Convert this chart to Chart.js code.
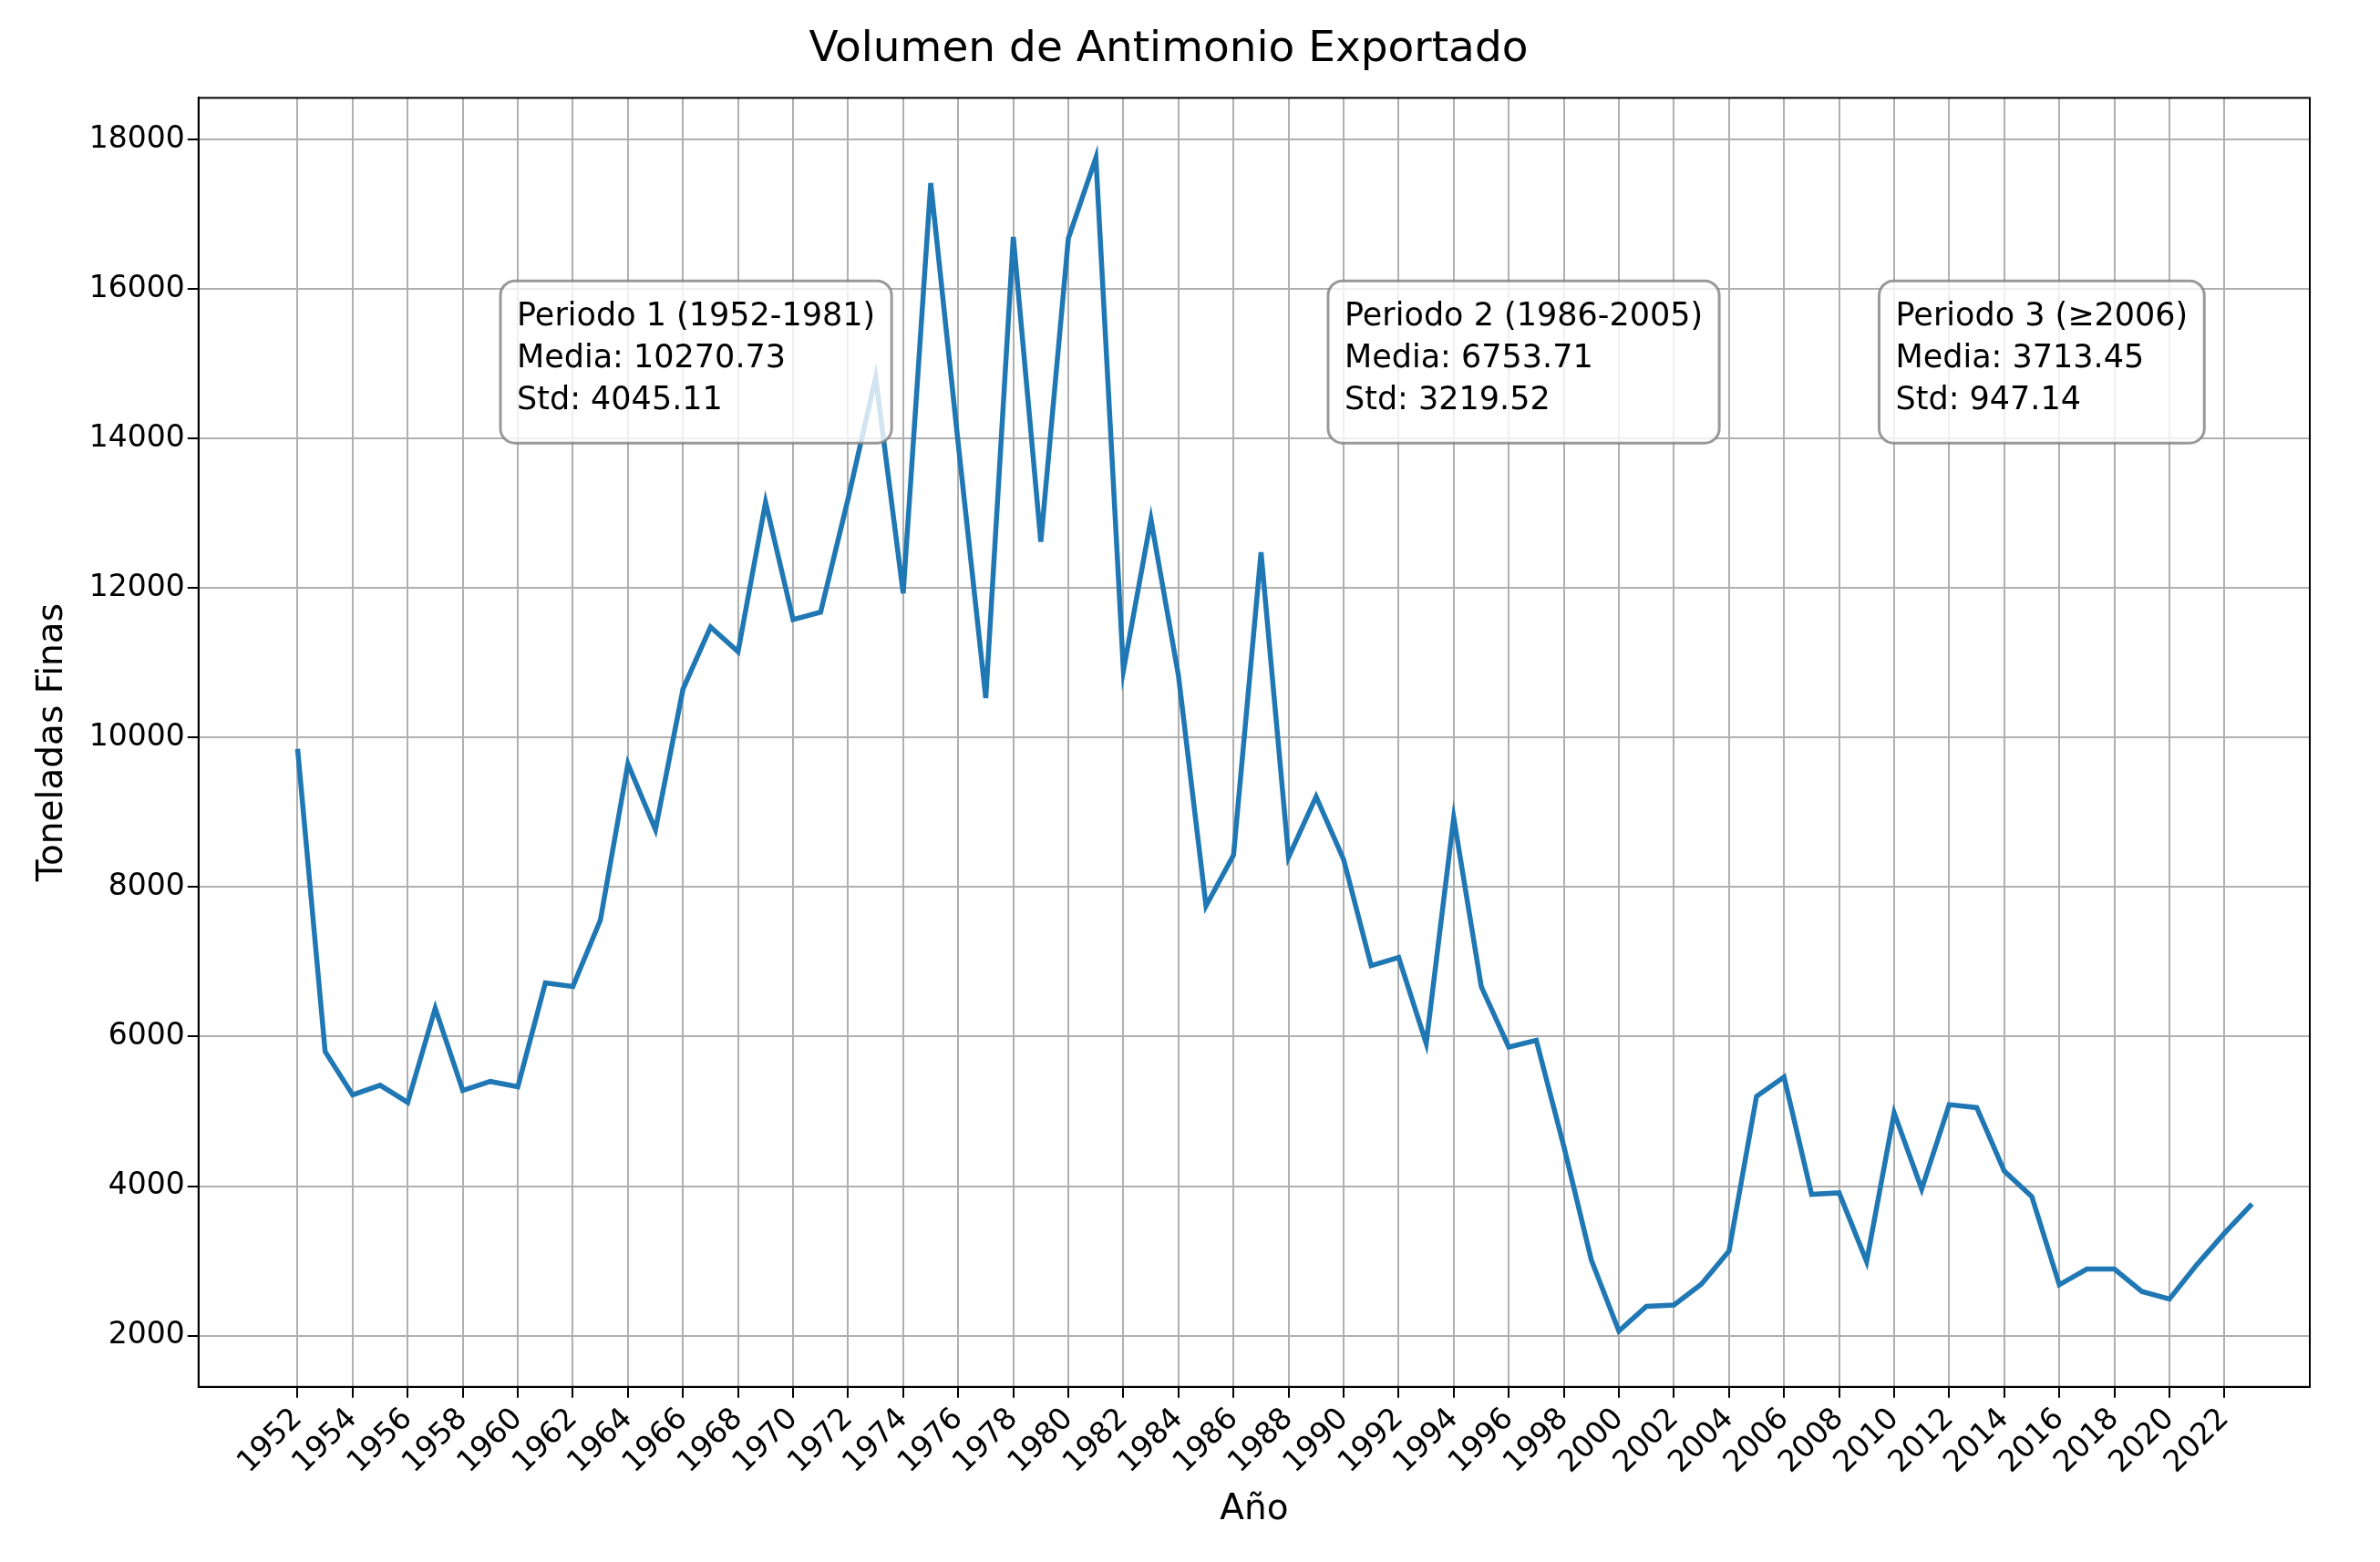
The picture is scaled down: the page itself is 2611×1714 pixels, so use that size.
<!DOCTYPE html>
<html>
<head>
<meta charset="utf-8">
<script src="https://cdn.jsdelivr.net/npm/chart.js@4"></script>
<style>
  body { margin: 0; background: #fff; }
  #wrap { width: 2611px; height: 1714px; }
</style>
</head>
<body>
<div id="wrap"><canvas id="grafico" width="2611" height="1714"></canvas></div>
<script>
// años y toneladas
var anios = [];
for (var a = 1952; a <= 2023; a++) anios.push(a);
var toneladas = [9850, 5800, 5220, 5350, 5120, 6380, 5280, 5400, 5330, 6720,
  6670, 7560, 9650, 8770, 10650, 11480, 11150, 13150, 11580, 11680,
  13200, 14820, 11930, 17420, 13930, 10530, 16700, 12620, 16680, 17760,
  10900, 12920, 10830, 7750, 8430, 12480, 8400, 9210, 8370, 6950,
  7060, 5910, 8930, 6670, 5860, 5950, 4530, 3010, 2060, 2390,
  2410, 2690, 3130, 5200, 5460, 3890, 3910, 2990, 4980, 3960,
  5090, 5050, 4200, 3860, 2680, 2890, 2890, 2590, 2490, 2950,
  3370, 3760];
var ticksX = [];
for (var t = 1952; t <= 2022; t += 2) ticksX.push(t);
var ticksY = [2000, 4000, 6000, 8000, 10000, 12000, 14000, 16000, 18000];

var periodos = [
  { fx: 0.143, lineas: ['Periodo 1 (1952-1981)', 'Media: 10270.73', 'Std: 4045.11'] },
  { fx: 0.535, lineas: ['Periodo 2 (1986-2005)', 'Media: 6753.71', 'Std: 3219.52'] },
  { fx: 0.796, lineas: ['Periodo 3 (≥2006)', 'Media: 3713.45', 'Std: 947.14'] }
];

// cajas de texto y marco del área
var cajas = {
  id: 'cajas',
  afterDatasetsDraw: function (chart) {
    var ctx = chart.ctx, ca = chart.chartArea;
    ctx.save();
    ctx.strokeStyle = '#000';
    ctx.lineWidth = 2;
    ctx.strokeRect(ca.left, ca.top, ca.right - ca.left, ca.bottom - ca.top);
    ctx.font = '35px "DejaVu Sans"';
    ctx.textBaseline = 'top';
    periodos.forEach(function (p) {
      var x = ca.left + p.fx * (ca.right - ca.left);
      var y = ca.top + 0.142 * (ca.bottom - ca.top);
      var w = 0;
      p.lineas.forEach(function (l) { w = Math.max(w, ctx.measureText(l).width); });
      w += 36;
      var h = 178;
      ctx.beginPath();
      ctx.roundRect(x, y, w, h, 16);
      ctx.fillStyle = 'rgba(255,255,255,0.8)';
      ctx.fill();
      ctx.strokeStyle = 'rgba(128,128,128,0.8)';
      ctx.lineWidth = 3;
      ctx.stroke();
      ctx.fillStyle = '#000';
      p.lineas.forEach(function (l, i) { ctx.fillText(l, x + 18, y + 22 + i * 46); });
    });
    ctx.restore();
  }
};

var ctx = document.querySelector('#grafico').getContext('2d');
new Chart(ctx, {
  type: 'line',
  data: {
    datasets: [{
      data: anios.map(function (a, i) { return { x: a, y: toneladas[i] }; }),
      borderColor: '#1f77b4',
      borderWidth: 5.5,
      pointRadius: 0,
      tension: 0
    }]
  },
  options: {
    responsive: false,
    animation: false,
    devicePixelRatio: 1,
    layout: { padding: { left: 30, right: 77, top: 5, bottom: 30 } },
    plugins: {
      legend: { display: false },
      tooltip: { enabled: false },
      title: {
        display: true, text: 'Volumen de Antimonio Exportado', color: '#000',
        font: { family: 'DejaVu Sans', size: 47, weight: 'normal' },
        padding: { top: 22, bottom: 24 }
      }
    },
    scales: {
      x: {
        type: 'linear', min: 1948.4, max: 2025.1,
        afterBuildTicks: function (s) { s.ticks = ticksX.map(function (v) { return { value: v }; }); },
        ticks: { color: '#000', font: { family: 'DejaVu Sans', size: 33 }, maxRotation: 45, minRotation: 45, autoSkip: false,
          padding: 4, callback: function (v) { return String(v); } },
        grid: { color: '#b0b0b0', lineWidth: 2, tickLength: 12, tickColor: '#000' },
        border: { color: '#000', width: 2 },
        title: { display: true, text: 'Año', color: '#000', font: { family: 'DejaVu Sans', size: 39 } }
      },
      y: {
        min: 1314, max: 18560,
        afterBuildTicks: function (s) { s.ticks = ticksY.map(function (v) { return { value: v }; }); },
        ticks: { color: '#000', font: { family: 'DejaVu Sans', size: 33 }, callback: function (v) { return String(v); } },
        grid: { color: '#b0b0b0', lineWidth: 2, tickLength: 12, tickColor: '#000' },
        border: { color: '#000', width: 2 },
        title: { display: true, text: 'Toneladas Finas', color: '#000', font: { family: 'DejaVu Sans', size: 39 }, padding: { bottom: 14 } }
      }
    }
  },
  plugins: [cajas]
});
</script>
</body>
</html>
